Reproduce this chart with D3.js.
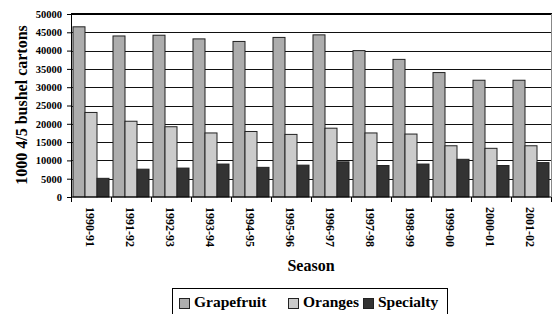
<!DOCTYPE html>
<html>
<head>
<meta charset="utf-8">
<script src="https://cdn.jsdelivr.net/npm/d3@7"></script>
<style>
  body { margin: 0; background: #fff; }
  svg text { font-family: "Liberation Serif", "Times New Roman", serif; font-weight: bold; fill: #000; }
</style>
</head>
<body>
<div id="chart"></div>
<script>
// seasons and series (1000 4/5 bushel cartons)
var seasons = ["1990-91","1991-92","1992-93","1993-94","1994-95","1995-96",
               "1996-97","1997-98","1998-99","1999-00","2000-01","2001-02"];
var seriesNames = ["Grapefruit", "Oranges", "Specialty"];
var grapefruit = [46500, 44000, 44200, 43200, 42500, 43600, 44300, 40000, 37600, 34000, 31900, 31900];
var oranges    = [23100, 20700, 19200, 17500, 17900, 17100, 18800, 17500, 17200, 14000, 13300, 14000];
var specialty  = [5100, 7600, 7900, 9000, 8100, 8700, 9600, 8600, 9000, 10300, 8600, 9400];
var yTicks = [0, 5000, 10000, 15000, 20000, 25000, 30000, 35000, 40000, 45000, 50000];
var colors = ["#adadad", "#cbcbcb", "#333333"];

var W = 556, H = 314;
// plot area edges
var pLeft = 71, pRight = 551, pTop = 14, pBottom = 197;

var svg = d3.select("#chart").append("svg")
  .attr("width", W).attr("height", H);

var x = d3.scaleBand().domain(seasons).range([pLeft, pRight]).padding(0);
var xs = d3.scaleBand().domain(seriesNames).range([2, 38]).padding(0);
var y = d3.scaleLinear().domain([0, 50000]).range([pBottom, pTop]);
var color = d3.scaleOrdinal().domain(seriesNames).range(colors);

// gridlines
svg.append("g").selectAll("line")
  .data(yTicks.filter(function (d) { return d > 0 && d < 50000; }))
  .join("line")
  .attr("x1", pLeft).attr("x2", pRight)
  .attr("y1", function (d) { return Math.round(y(d)) + 0.5; })
  .attr("y2", function (d) { return Math.round(y(d)) + 0.5; })
  .style("stroke", "#111").style("stroke-width", 1);

// top border (thicker) and right border (gray)
svg.append("line").attr("x1", pLeft).attr("x2", pRight + 1)
  .attr("y1", y(50000)).attr("y2", y(50000))
  .style("stroke", "#000").style("stroke-width", 2);
svg.append("line").attr("x1", pRight + 0.5).attr("x2", pRight + 0.5)
  .attr("y1", pTop).attr("y2", pBottom)
  .style("stroke", "#888").style("stroke-width", 1);

// bars
var rows = seasons.map(function (s, i) {
  return { season: s, values: [grapefruit[i], oranges[i], specialty[i]] };
});
var groups = svg.append("g").selectAll("g")
  .data(rows).join("g")
  .attr("transform", function (d) { return "translate(" + x(d.season) + ",0)"; });
groups.selectAll("rect")
  .data(function (d) { return d.values.map(function (v, j) { return { name: seriesNames[j], v: v }; }); })
  .join("rect")
  .attr("x", function (d) { return xs(d.name); })
  .attr("width", xs.bandwidth())
  .attr("y", function (d) { return y(d.v); })
  .attr("height", function (d) { return y(0) - y(d.v); })
  .style("fill", function (d) { return color(d.name); })
  .style("stroke", "#222").style("stroke-width", 1);

// y axis
var yAxis = svg.append("g")
  .attr("transform", "translate(" + pLeft + ",0)")
  .call(d3.axisLeft(y).tickValues(yTicks).tickSize(4).tickPadding(5).tickFormat(d3.format("d")));
yAxis.select(".domain").style("stroke", "#000");
yAxis.selectAll(".tick line").style("stroke", "#000");
yAxis.selectAll("text").style("font-size", "10.5px")
  .style("font-family", '"Liberation Serif", serif').style("font-weight", "bold");

// x axis: ticks sit at category boundaries
var xAxis = svg.append("g").attr("transform", "translate(0," + pBottom + ")");
xAxis.append("line").attr("x1", pLeft).attr("x2", pRight)
  .style("stroke", "#000");
xAxis.selectAll("line.tk")
  .data(d3.range(seasons.length + 1))
  .join("line").attr("class", "tk")
  .attr("x1", function (i) { return pLeft + i * x.bandwidth() + 0.5; })
  .attr("x2", function (i) { return pLeft + i * x.bandwidth() + 0.5; })
  .attr("y1", 0).attr("y2", 5)
  .style("stroke", "#000");
xAxis.selectAll("text")
  .data(seasons).join("text")
  .attr("transform", function (d) {
    return "translate(" + (x(d) + x.bandwidth() / 2 - 1) + ",10) rotate(90)";
  })
  .attr("dy", "0.35em")
  .style("font-size", "12px")
  .text(function (d) { return d; });

// axis titles
svg.append("text")
  .attr("transform", "translate(27,105) rotate(-90)")
  .attr("text-anchor", "middle")
  .style("font-size", "16px")
  .text("1000 4/5 bushel cartons");
svg.append("text")
  .attr("x", (pLeft + pRight) / 2).attr("y", 271)
  .attr("text-anchor", "middle")
  .style("font-size", "16px")
  .text("Season");

// legend
var legend = svg.append("g");
legend.append("rect")
  .attr("x", 172.5).attr("y", 288.5).attr("width", 275).attr("height", 30)
  .style("fill", "#fff").style("stroke", "#000");
var legendX = [179, 288, 363];
var items = legend.selectAll("g.item")
  .data(seriesNames).join("g").attr("class", "item")
  .attr("transform", function (d, i) { return "translate(" + legendX[i] + ",0)"; });
items.append("rect")
  .attr("x", 0.5).attr("y", 298.5).attr("width", 10).attr("height", 10)
  .style("fill", function (d) { return color(d); })
  .style("stroke", "#222");
items.append("text")
  .attr("x", 15).attr("y", 307)
  .style("font-size", "15.5px")
  .text(function (d) { return d; });
</script>
</body>
</html>
